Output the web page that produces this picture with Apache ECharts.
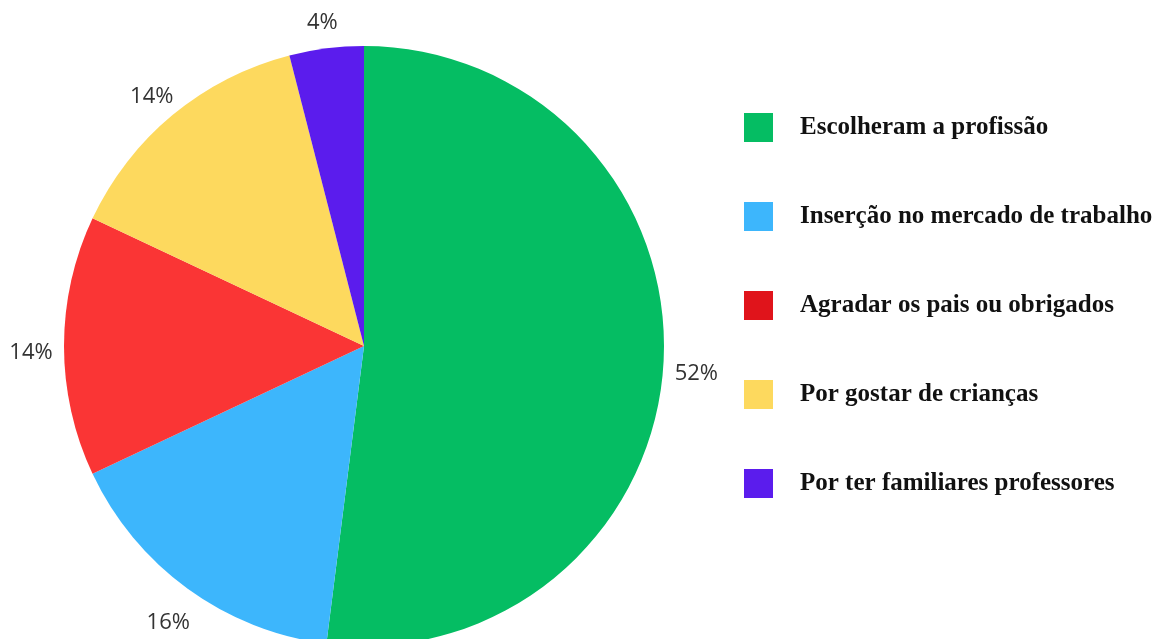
<!DOCTYPE html>
<html>
<head>
<meta charset="utf-8">
<title>Pie</title>
<script src="https://cdn.jsdelivr.net/npm/echarts@6/dist/echarts.min.js"></script>
<style>
  html, body { margin: 0; padding: 0; background: #fff; }
  #chart { width: 1157px; height: 639px; }
</style>
</head>
<body>
<div id="chart"></div>
<script>
const categories = [
  'Escolheram a profissão',
  'Inserção no mercado de trabalho',
  'Agradar os pais ou obrigados',
  'Por gostar de crianças',
  'Por ter familiares professores'
]
const values = [52, 16, 14, 14, 4]
const sliceColors = ['#05bd63', '#3db6fc', '#fa3535', '#fdd95e', '#5b1ced']
const legendColors = ['#05bd63', '#3db6fc', '#e0141b', '#fdd95e', '#5b1ced']

const pieData = categories.map((name, i) => ({
  name,
  value: values[i],
  itemStyle: { color: sliceColors[i] }
}))

const myChart = echarts.init(document.getElementById('chart'))

const option = {
  animation: false,
  legend: {
    orient: 'vertical',
    left: 744,
    top: 113,
    padding: 0,
    itemWidth: 29,
    itemHeight: 29,
    itemGap: 60,
    icon: 'rect',
    selectedMode: false,
    data: categories.map((name, i) => ({ name, itemStyle: { color: legendColors[i] } })),
    textStyle: {
      fontFamily: 'Liberation Serif',
      fontWeight: 'bold',
      fontSize: 25,
      color: '#111',
      padding: [0, 0, 0, 22]
    }
  },
  series: [
    {
      name: 'slices',
      type: 'pie',
      center: [364, 346],
      radius: [0, 300],
      startAngle: 90,
      silent: true,
      label: { show: false },
      labelLine: { show: false },
      data: pieData
    },
    {
      // transparent ring, a little lower, only used to place the percent labels
      name: 'labels',
      type: 'pie',
      center: [364, 353],
      radius: [300, 360],
      startAngle: 90,
      silent: true,
      itemStyle: { color: 'rgba(0,0,0,0)' },
      label: {
        show: true,
        position: 'inside',
        formatter: '{c}%',
        fontFamily: 'Open Sans',
        fontSize: 22,
        color: '#333'
      },
      labelLine: { show: false },
      data: categories.map((name, i) => ({ name, value: values[i] }))
    }
  ]
}

myChart.setOption(option)
</script>
</body>
</html>
